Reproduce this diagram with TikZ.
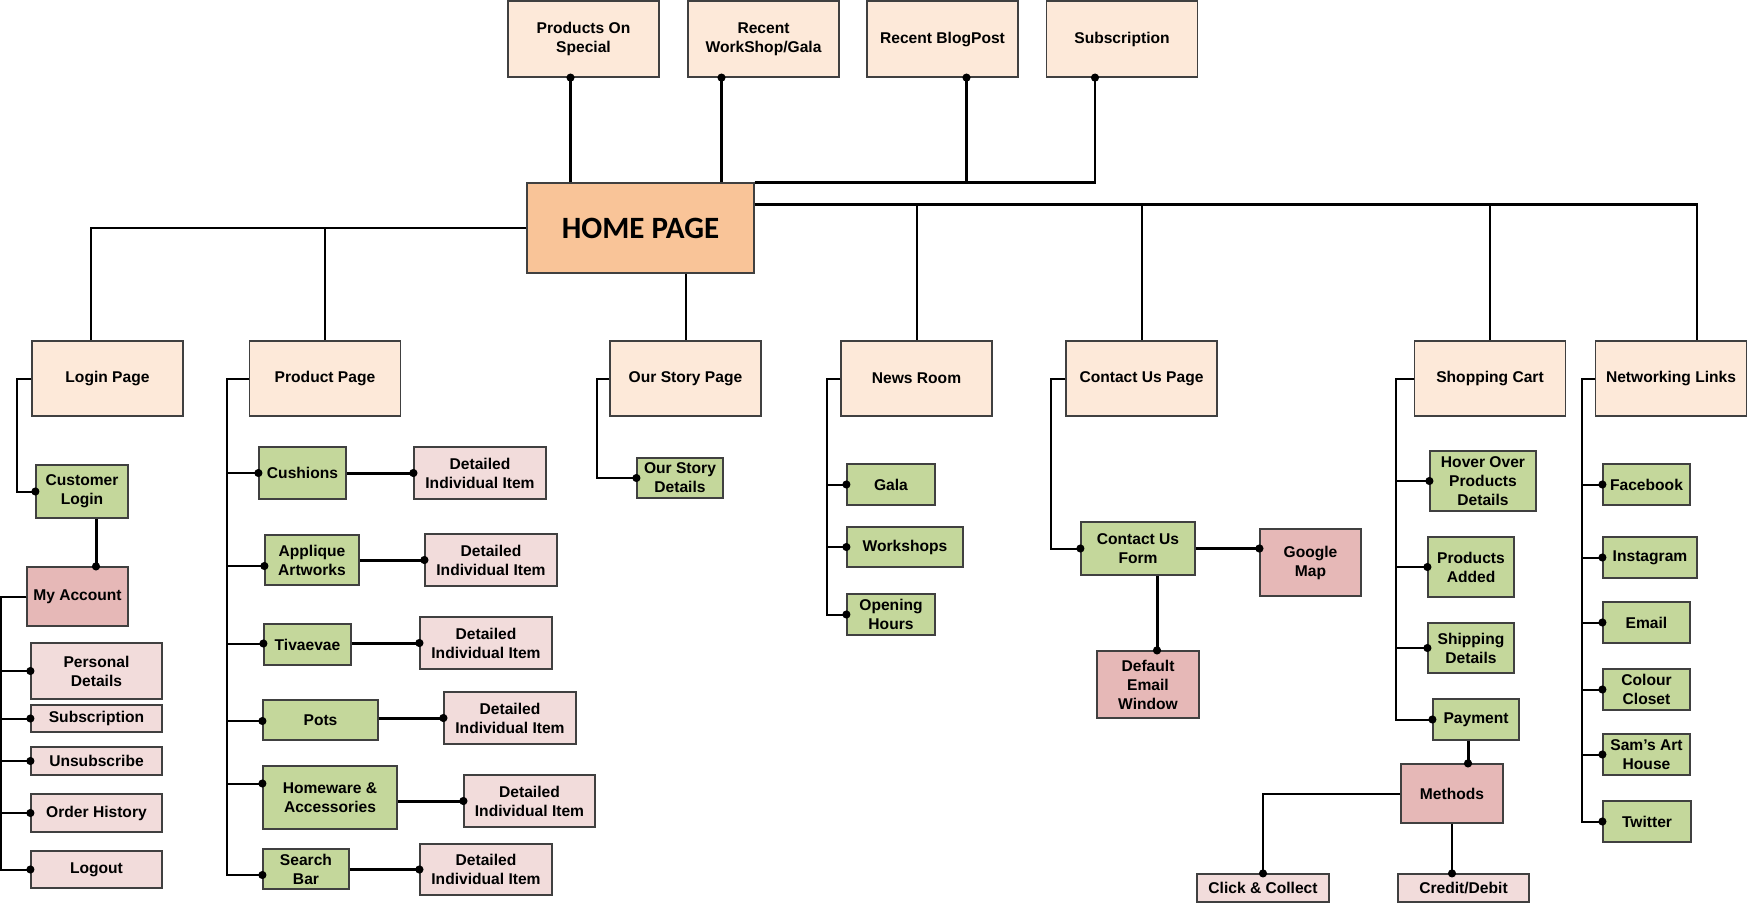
\documentclass[tikz,border=0pt]{standalone}
\usepackage{fontspec}
\setmainfont{Liberation Sans}
\newfontfamily\homefont{Carlito}
\usepackage{tikz}
\usetikzlibrary{arrows.meta, calc}
\usepackage{xcolor}
\definecolor{mpeach}{RGB}{253,233,217}
\definecolor{morange}{RGB}{249,196,152}
\definecolor{mgreen}{RGB}{196,215,155}
\definecolor{mred}{RGB}{230,184,183}
\definecolor{mpink}{RGB}{242,220,219}

\begin{document}
\begin{tikzpicture}[x=1pt, y=-1pt,
    page/.style={draw=black!75, line width=1.2pt, align=center, inner sep=0pt,
                 font=\fontsize{15.6}{19}\selectfont\bfseries},
    boxsize/.style 2 args={minimum width=#1pt, minimum height=#2pt},
    toppage/.style={page, fill=mpeach, boxsize={151}{76}},
    mainpage/.style={page, fill=mpeach, boxsize={151}{75}},
    homepage/.style={page, fill=morange, boxsize={227}{90},
                     font=\homefont\fontsize{31}{36}\selectfont\bfseries},
    subpage/.style={page, fill=mgreen},
    redpage/.style={page, fill=mred},
    pinkpage/.style={page, fill=mpink},
    link/.style={line width=2pt},
    dotlink/.style={line width=2pt, -{Circle[length=8pt]}, shorten >=-4pt},
    thickdot/.style={dotlink, line width=3pt},
]
\useasboundingbox (0,0) rectangle (1748,905);

% top row
\node[toppage] (ps) at (583.5,39) {Products On\\Special};
\node[toppage] (rw) at (763.5,39) {Recent\\WorkShop/Gala};
\node[toppage] (rb) at (942.5,39) {Recent BlogPost};
\node[toppage] (sub) at (1122,39) {Subscription};

\node[homepage] (home) at (640.5,228) {HOME PAGE};

% main pages
\node[mainpage] (login) at (107.5,378.5) {Login Page};
\node[mainpage] (prod) at (325,378.5) {Product Page};
\node[mainpage] (story) at (685.5,378.5) {Our Story Page};
\node[mainpage] (news) at (916.5,378.5) {News Room};
\node[mainpage] (contact) at (1141.5,378.5) {Contact Us Page};
\node[mainpage] (cart) at (1490,378.5) {Shopping Cart};
\node[mainpage] (net) at (1671,378.5) {Networking Links};

% login
\node[subpage, boxsize={92}{53}] (cust) at (82,491.5) {Customer\\Login};
\node[redpage, boxsize={101}{59}] (myacc) at (77.5,596.5) {My Account};
\node[pinkpage, boxsize={131}{56}] (pers) at (96.5,671) {Personal\\Details};
\node[pinkpage, boxsize={131}{27}] (subs) at (96.5,718.5) {Subscription};
\node[pinkpage, boxsize={131}{28}] (unsub) at (96.5,761) {Unsubscribe};
\node[pinkpage, boxsize={131}{38}] (order) at (96.5,813) {Order History};
\node[pinkpage, boxsize={131}{37}] (logout) at (96.5,869.5) {Logout};

% products
\node[subpage, boxsize={87}{52}] (cush) at (302.5,473) {Cushions};
\node[subpage, boxsize={94}{50}] (appl) at (312,560) {Applique\\Artworks};
\node[subpage, boxsize={87}{41}] (tiva) at (307.5,644.5) {Tivaevae};
\node[subpage, boxsize={115}{40}] (pots) at (320.5,720) {Pots};
\node[subpage, boxsize={134}{63}] (homew) at (330,797.5) {Homeware \&\\Accessories};
\node[subpage, boxsize={86}{40}] (search) at (306,869) {Search\\Bar};
\node[pinkpage, boxsize={132}{52}] (det1) at (480,473) {Detailed\\Individual Item};
\node[pinkpage, boxsize={132}{52}] (det2) at (491,560) {Detailed\\Individual Item};
\node[pinkpage, boxsize={132}{52}] (det3) at (486,643) {Detailed\\Individual Item};
\node[pinkpage, boxsize={132}{52}] (det4) at (510,718) {Detailed\\Individual Item};
\node[pinkpage, boxsize={131}{52}] (det5) at (529.5,801) {Detailed\\Individual Item};
\node[pinkpage, boxsize={132}{51}] (det6) at (486,869.5) {Detailed\\Individual Item};

% our story
\node[subpage, boxsize={86}{40}] (sdet) at (680,478) {Our Story\\Details};

% news room
\node[subpage, boxsize={88}{41}] (gala) at (891,484.5) {Gala};
\node[subpage, boxsize={116}{40}] (work) at (905,547) {Workshops};
\node[subpage, boxsize={88}{41}] (open) at (891,614.5) {Opening\\Hours};

% contact
\node[subpage, boxsize={114}{53}] (form) at (1138,548.5) {Contact Us\\Form};
\node[redpage, boxsize={101}{67}] (map) at (1310.5,562.5) {Google\\Map};
\node[redpage, boxsize={102}{67}] (email) at (1148,684.5) {Default\\Email\\Window};

% shopping cart
\node[subpage, boxsize={106}{60}] (hover) at (1483,481) {Hover Over\\Products\\Details};
\node[subpage, boxsize={86}{60}] (added) at (1471,567) {Products\\Added};
\node[subpage, boxsize={86}{50}] (ship) at (1471,648) {Shipping\\Details};
\node[subpage, boxsize={86}{41}] (pay) at (1476,719.5) {Payment};
\node[redpage, boxsize={102}{59}] (meth) at (1452,793.5) {Methods};
\node[pinkpage, boxsize={132}{28}] (click) at (1263,888) {Click \& Collect};
\node[pinkpage, boxsize={131}{28}] (credit) at (1463.5,888) {Credit/Debit};

% networking
\node[subpage, boxsize={87}{41}] (fb) at (1646.5,484.5) {Facebook};
\node[subpage, boxsize={94}{41}] (insta) at (1650,557.5) {Instagram};
\node[subpage, boxsize={87}{41}] (mail) at (1646.5,622.5) {Email};
\node[subpage, boxsize={87}{41}] (colour) at (1646.5,689.5) {Colour\\Closet};
\node[subpage, boxsize={87}{41}] (sams) at (1646.5,754.5) {Sam’s Art\\House};
\node[subpage, boxsize={88}{41}] (tw) at (1647,821.5) {Twitter};

% top links
\draw[thickdot, line width=2.5pt] ([xshift=-13pt]ps.south |- home.north) -- ([xshift=-13pt]ps.south);
\draw[thickdot, line width=2.5pt] ([xshift=-42pt]rw.south |- home.north) -- ([xshift=-42pt]rw.south);
\draw[thickdot, line width=2.5pt] (home.north east) -| ([xshift=24pt]rb.south);
\draw[thickdot, line width=2.5pt] ([xshift=24pt]rb.south |- home.north) -| ([xshift=-27pt]sub.south);

% home to main pages
\coordinate (hr) at ([yshift=-22pt]home.north east);
\draw[link] (home.west) -| ([xshift=-17pt]login.north);
\draw[link] (home.west -| prod.north) -- (prod.north);
\draw[link] (home.south -| story.north) -- (story.north);
\draw[link, line width=2.5pt] (hr) -| ([xshift=26pt]net.north);
\foreach \p in {news, contact, cart}
    \draw[link] (hr -| \p.north) -- (\p.north);

% sub pages
\draw[dotlink] (login.west) -- ++(-14pt,0) |- (cust.west);
\draw[thickdot] ([xshift=14pt]cust.south) -- ([xshift=14pt]cust.south |- myacc.north);
\foreach \c in {pers, subs, unsub, order, logout}
    \draw[dotlink] (myacc.west) -- ++(-25pt,0) |- (\c.west);

\foreach \c/\s in {cush/0, appl/-6, tiva/1, pots/-1, homew/14, search/-6}
    \draw[dotlink] (prod.west) -- ++(-22pt,0) |- ([yshift=\s pt]\c.west);
\foreach \c/\d in {cush/det1, appl/det2, tiva/det3, pots/det4, homew/det5, search/det6}
    \draw[thickdot] (\c.east |- \d.west) -- (\d.west);

\draw[dotlink] (story.west) -- ++(-12pt,0) |- (sdet.west);

\foreach \c in {gala, work, open}
    \draw[dotlink] (news.west) -- ++(-13pt,0) |- (\c.west);

\draw[dotlink] (contact.west) -- ++(-14pt,0) |- (form.west);
\draw[thickdot] (form.east) -- (form.east -| map.west);
\draw[thickdot] ([xshift=9pt]email.north |- form.south) -- ([xshift=9pt]email.north);

\foreach \c in {hover, added, ship, pay}
    \draw[dotlink] (cart.west) -- ++(-18pt,0) |- (\c.west);
\draw[thickdot] ([xshift=-8pt]pay.south) -- ([xshift=-8pt]pay.south |- meth.north);
\draw[dotlink] (meth.west) -| (click.north);
\draw[dotlink] (meth.south) -- (meth.south |- credit.north);

\foreach \c in {fb, insta, mail, colour, sams, tw}
    \draw[dotlink] (net.west) -- ++(-13pt,0) |- (\c.west);

\end{tikzpicture}
\end{document}
